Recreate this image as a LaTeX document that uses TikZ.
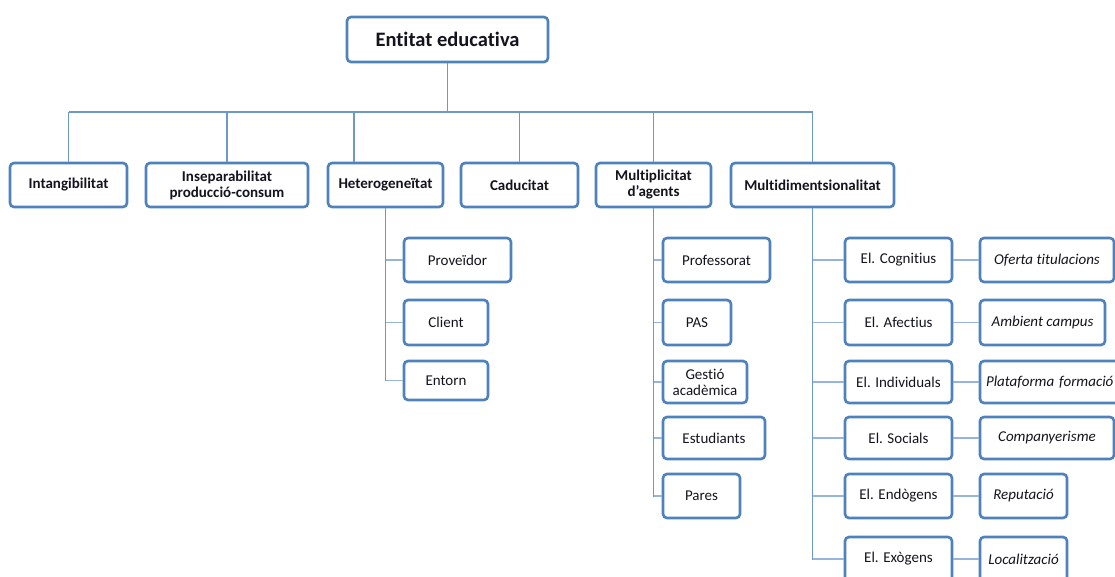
\documentclass[tikz,border=0pt]{standalone}
\usepackage{fontspec}
\setmainfont{Carlito}[Ligatures=NoCommon]
\definecolor{boxblue}{RGB}{79,129,189}
\definecolor{linkblue}{RGB}{110,151,202}
\definecolor{stubblue}{RGB}{150,180,220}
\definecolor{txt}{RGB}{20,20,30}
\tikzset{
  bx/.style={draw=boxblue, line width=2.6pt, rounded corners=4pt, fill=white, text=txt, inner sep=0pt, align=center},
  lnk/.style={draw=linkblue, line width=1.2pt},
  stub/.style={draw=stubblue, line width=1.8pt},
  lvone/.style={font=\fontsize{15}{16}\selectfont\bfseries},
  lvtwo/.style={font=\fontsize{15}{17}\selectfont},
  lvit/.style={font=\fontsize{15}{17}\selectfont\itshape},
}
\begin{document}
\begin{tikzpicture}[x=1pt,y=-1pt]
\useasboundingbox (0,0) rectangle (1115,577);
\clip (0,0) rectangle (1115,577);
\coordinate (bL) at (68.5,112);
\coordinate (bR) at (812.5,112);
\coordinate (hx) at (354,112);
% level 0
\node[bx, minimum width=201pt, minimum height=45pt, font=\fontsize{20.5}{22}\selectfont\bfseries] (root) at (447.5,39.5) {Entitat educativa};
% level 1
\node[bx,lvone, minimum width=117pt, minimum height=44pt] (intang) at (68.5,185) {Intangibilitat};
\node[bx,lvone, minimum width=162pt, minimum height=44pt] (insep) at (227,185) {Inseparabilitat\\producció-consum};
\node[bx,lvone, minimum width=115pt, minimum height=44pt] (heter) at (385.5,185) {Heterogeneïtat};
\node[bx,lvone, minimum width=117pt, minimum height=44pt] (caduc) at (519.5,185) {Caducitat};
\node[bx,lvone, minimum width=115pt, minimum height=44pt] (multip) at (653.5,185) {Multiplicitat\\d’agents};
\node[bx,lvone, minimum width=163pt, minimum height=44pt] (multid) at (812.5,185) {Multidimentsionalitat};
% level 2 heterogeneity
\node[bx,lvtwo, minimum width=107pt, minimum height=44pt] (prov) at (457.5,260) {Proveïdor};
\node[bx,lvtwo, minimum width=84pt, minimum height=45pt] (client) at (446,322.5) {Client};
\node[bx,lvtwo, minimum width=84pt, minimum height=39pt] (entorn) at (446,380.5) {Entorn};
% level 2 agents
\node[bx,lvtwo, minimum width=107pt, minimum height=44pt] (prof) at (716.5,260) {Professorat};
\node[bx,lvtwo, minimum width=68pt, minimum height=45pt] (pas) at (697,322.5) {PAS};
\node[bx,lvtwo, minimum width=84pt, minimum height=42pt, font=\fontsize{15}{16}\selectfont] (gest) at (705,382) {Gestió\\acadèmica};
\node[bx,lvtwo, minimum width=102pt, minimum height=42pt] (estud) at (714,438) {Estudiants};
\node[bx,lvtwo, minimum width=77pt, minimum height=44pt] (pares) at (701.5,496) {Pares};
% level 2 dimensions
\node[bx,lvtwo, minimum width=107pt, minimum height=44pt] (cogn) at (898.5,260) {El. Cognitius};
\node[bx,lvtwo, minimum width=107pt, minimum height=45pt] (afec) at (898.5,322.5) {El. Afectius};
\node[bx,lvtwo, minimum width=107pt, minimum height=42pt] (indiv) at (898.5,382) {El. Individuals};
\node[bx,lvtwo, minimum width=107pt, minimum height=42pt] (soc) at (898.5,438) {El. Socials};
\node[bx,lvtwo, minimum width=107pt, minimum height=44pt] (endo) at (898.5,496) {El. Endògens};
\node[bx,lvtwo, minimum width=107pt, minimum height=44pt] (exo) at (898.5,559) {El. Exògens};
% level 3
\node[bx,lvit, minimum width=134pt, minimum height=44pt] (ofer) at (1047,260) {Oferta titulacions};
\node[bx,lvit, minimum width=125pt, minimum height=45pt] (ambi) at (1042.5,322.5) {Ambient campus};
\node[bx,lvit, minimum width=150pt, minimum height=42pt, text width=146pt, align=left] (plat) at (1055,382) {\hspace*{4pt}Plataforma formació};
\node[bx,lvit, minimum width=134pt, minimum height=42pt] (comp) at (1047,438) {Companyerisme};
\node[bx,lvit, minimum width=87pt, minimum height=44pt] (repu) at (1023.5,496) {Reputació};
\node[bx,lvit, minimum width=87pt, minimum height=44pt] (loca) at (1023.5,559) {Localització};
% connectors
\draw[lnk] (root.south) -- (root.south |- bL);
\draw[lnk] (bL) -- (bR);
\draw[lnk] (bL) -- (intang.north);
\draw[lnk] (insep.north |- bL) -- (insep.north);
\draw[lnk] (hx) -- (hx |- heter.north);
\draw[lnk] (caduc.north |- bL) -- (caduc.north);
\draw[lnk] (multip.north |- bL) -- (multip.north);
\draw[lnk] (bR) -- (multid.north);
% heterogeneity children
\draw[lnk] (heter.south) |- (entorn.west);
\foreach \n in {prov,client,entorn} \draw[stub] (heter.south |- \n.west) -- (\n.west);
% agents children
\draw[lnk] (multip.south) |- (pares.west);
\foreach \n in {prof,pas,gest,estud,pares} \draw[stub] (multip.south |- \n.west) -- (\n.west);
% dimension children
\draw[lnk] (multid.south) |- (exo.west);
\foreach \n in {cogn,afec,indiv,soc,endo,exo} \draw[stub] (multid.south |- \n.west) -- (\n.west);
\draw[stub] (cogn.east) -- (ofer.west);
\draw[stub] (afec.east) -- (ambi.west);
\draw[stub] (indiv.east) -- (plat.west);
\draw[stub] (soc.east) -- (comp.west);
\draw[stub] (endo.east) -- (repu.west);
\draw[stub] (exo.east) -- (loca.west);
\end{tikzpicture}
\end{document}
